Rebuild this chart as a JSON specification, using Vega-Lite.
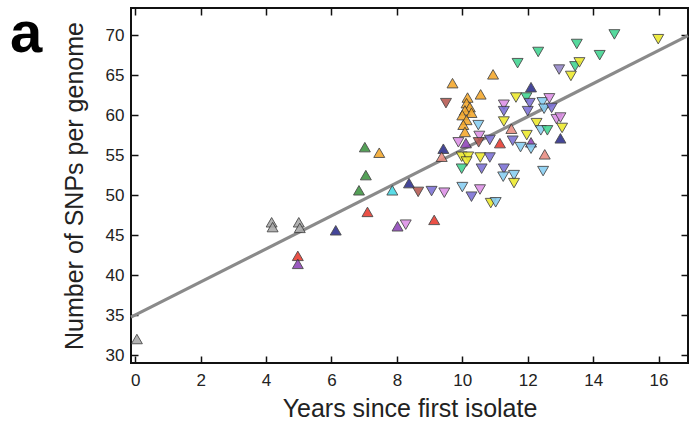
{
  "$schema": "https://vega.github.io/schema/vega-lite/v6.json",
  "width": 557,
  "height": 355,
  "autosize": {"type": "none"},
  "padding": {"left": 131, "top": 8, "right": 1, "bottom": 58},
  "background": "white",
  "config": {
    "view": {"stroke": "#111", "strokeWidth": 2},
    "axis": {"labelFont": "Liberation Sans", "titleFont": "Liberation Sans", "labelColor": "#222", "titleColor": "#222", "labelFontSize": 17, "titleFontSize": 25, "titleFontWeight": "normal", "domain": false, "tickColor": "#111", "tickWidth": 1.5, "gridColor": "#e4e4e4", "gridWidth": 1.5}
  },
  "layer": [
    {
      "data": {"values": [{"x": -0.13, "y": 34.73}, {"x": 16.9, "y": 69.95}]},
      "mark": {"type": "line", "color": "#8a8a8a", "strokeWidth": 3.2},
      "encoding": {
        "x": {"field": "x", "type": "quantitative", "scale": {"domain": [-0.13, 16.9], "nice": false, "zero": false}, "axis": {"orient": "top", "values": [0, 2, 4, 6, 8, 10, 12, 14, 16], "labels": false, "grid": false, "tickSize": -7, "title": null}},
        "y": {"field": "y", "type": "quantitative", "scale": {"domain": [29, 73.4], "nice": false, "zero": false}, "axis": {"orient": "right", "values": [30, 35, 40, 45, 50, 55, 60, 65, 70], "labels": false, "grid": false, "tickSize": -7, "title": null}}
      }
    },
    {
      "data": {"values": [{"label": "a", "x": -3.83, "y": 67.9}]},
      "mark": {"type": "text", "font": "Liberation Sans", "fontSize": 58, "fontWeight": "bold", "color": "#000", "align": "left", "baseline": "alphabetic"},
      "encoding": {
        "x": {"field": "x", "type": "quantitative", "axis": null},
        "y": {"field": "y", "type": "quantitative", "axis": null},
        "text": {"field": "label"}
      }
    },
    {
      "data": {"values": [
        {"x": 0.05, "y": 32.0, "g": "gray", "s": "up"},
        {"x": 4.17, "y": 46.6, "g": "gray", "s": "up"},
        {"x": 4.2, "y": 46.0, "g": "gray", "s": "up"},
        {"x": 5.0, "y": 46.6, "g": "gray", "s": "up"},
        {"x": 5.03, "y": 45.9, "g": "gray", "s": "up"},
        {"x": 4.97, "y": 42.4, "g": "red", "s": "up"},
        {"x": 4.97, "y": 41.4, "g": "purple", "s": "up"},
        {"x": 6.13, "y": 45.6, "g": "navy", "s": "up"},
        {"x": 7.02, "y": 56.0, "g": "green", "s": "up"},
        {"x": 7.05, "y": 52.5, "g": "green", "s": "up"},
        {"x": 6.84, "y": 50.6, "g": "green", "s": "up"},
        {"x": 7.46, "y": 55.3, "g": "orange", "s": "up"},
        {"x": 7.1, "y": 47.9, "g": "red", "s": "up"},
        {"x": 7.86, "y": 50.6, "g": "cyan", "s": "up"},
        {"x": 8.37, "y": 51.5, "g": "navy", "s": "up"},
        {"x": 8.65, "y": 50.4, "g": "brown", "s": "down"},
        {"x": 9.06, "y": 50.5, "g": "slate", "s": "down"},
        {"x": 9.45, "y": 50.3, "g": "violet", "s": "down"},
        {"x": 8.02, "y": 46.1, "g": "purple", "s": "up"},
        {"x": 8.27, "y": 46.3, "g": "violet", "s": "down"},
        {"x": 9.14, "y": 46.9, "g": "red", "s": "up"},
        {"x": 9.42, "y": 55.8, "g": "navy", "s": "up"},
        {"x": 9.37, "y": 54.8, "g": "salmon", "s": "up"},
        {"x": 9.7, "y": 64.0, "g": "orange", "s": "up"},
        {"x": 10.94, "y": 65.1, "g": "orange", "s": "up"},
        {"x": 10.56, "y": 62.6, "g": "orange", "s": "up"},
        {"x": 9.5, "y": 61.5, "g": "brown", "s": "down"},
        {"x": 10.16, "y": 62.2, "g": "orange", "s": "up"},
        {"x": 10.13, "y": 61.5, "g": "orange", "s": "up"},
        {"x": 10.23, "y": 61.0, "g": "orange", "s": "up"},
        {"x": 10.08, "y": 60.6, "g": "orange", "s": "up"},
        {"x": 10.28, "y": 60.3, "g": "orange", "s": "up"},
        {"x": 10.0, "y": 60.0, "g": "orange", "s": "up"},
        {"x": 10.13, "y": 59.4, "g": "orange", "s": "up"},
        {"x": 10.03, "y": 58.8, "g": "orange", "s": "up"},
        {"x": 10.08, "y": 57.9, "g": "orange", "s": "up"},
        {"x": 10.49, "y": 58.75, "g": "lightblue", "s": "down"},
        {"x": 9.88, "y": 56.6, "g": "violet", "s": "down"},
        {"x": 10.11, "y": 56.5, "g": "purple", "s": "up"},
        {"x": 10.52, "y": 57.4, "g": "violet", "s": "down"},
        {"x": 10.5, "y": 56.6, "g": "brown", "s": "down"},
        {"x": 10.84, "y": 56.9, "g": "slate", "s": "down"},
        {"x": 11.15, "y": 56.5, "g": "red", "s": "up"},
        {"x": 9.98, "y": 54.8, "g": "yellow", "s": "down"},
        {"x": 10.18, "y": 54.8, "g": "yellow", "s": "down"},
        {"x": 10.13, "y": 54.2, "g": "yellow", "s": "down"},
        {"x": 10.55, "y": 54.7, "g": "yellow", "s": "down"},
        {"x": 9.98, "y": 53.3, "g": "mint", "s": "down"},
        {"x": 10.84, "y": 54.7, "g": "slate", "s": "down"},
        {"x": 10.59, "y": 53.3, "g": "slate", "s": "down"},
        {"x": 10.0, "y": 51.0, "g": "lightblue", "s": "down"},
        {"x": 10.54, "y": 50.7, "g": "violet", "s": "down"},
        {"x": 10.28, "y": 49.8, "g": "slate", "s": "down"},
        {"x": 10.87, "y": 49.0, "g": "yellow", "s": "down"},
        {"x": 11.02, "y": 49.1, "g": "lightblue", "s": "down"},
        {"x": 12.1, "y": 63.5, "g": "navy", "s": "up"},
        {"x": 11.64, "y": 62.2, "g": "yellow", "s": "down"},
        {"x": 11.96, "y": 62.2, "g": "mint", "s": "down"},
        {"x": 11.27, "y": 61.3, "g": "violet", "s": "down"},
        {"x": 11.27, "y": 60.5, "g": "slate", "s": "down"},
        {"x": 11.27, "y": 59.2, "g": "yellow", "s": "down"},
        {"x": 11.5, "y": 58.3, "g": "salmon", "s": "up"},
        {"x": 12.06, "y": 61.5, "g": "slate", "s": "down"},
        {"x": 12.0, "y": 60.5, "g": "slate", "s": "down"},
        {"x": 12.45, "y": 61.6, "g": "lightblue", "s": "down"},
        {"x": 12.66, "y": 62.1, "g": "violet", "s": "down"},
        {"x": 12.5, "y": 60.8, "g": "lightblue", "s": "down"},
        {"x": 12.73, "y": 60.9, "g": "slate", "s": "down"},
        {"x": 12.88, "y": 59.5, "g": "violet", "s": "down"},
        {"x": 13.0, "y": 59.7, "g": "violet", "s": "down"},
        {"x": 12.27, "y": 59.0, "g": "yellow", "s": "down"},
        {"x": 12.4, "y": 58.1, "g": "lightblue", "s": "down"},
        {"x": 12.6, "y": 58.1, "g": "mint", "s": "down"},
        {"x": 13.05, "y": 58.4, "g": "yellow", "s": "down"},
        {"x": 13.0, "y": 57.1, "g": "navy", "s": "up"},
        {"x": 11.97, "y": 57.5, "g": "yellow", "s": "down"},
        {"x": 12.1, "y": 56.6, "g": "purple", "s": "up"},
        {"x": 11.54, "y": 56.8, "g": "slate", "s": "down"},
        {"x": 11.78, "y": 56.0, "g": "lightblue", "s": "down"},
        {"x": 12.1, "y": 55.8, "g": "lightblue", "s": "down"},
        {"x": 12.52, "y": 55.1, "g": "salmon", "s": "up"},
        {"x": 11.27, "y": 53.3, "g": "slate", "s": "down"},
        {"x": 11.25, "y": 52.3, "g": "lightblue", "s": "down"},
        {"x": 11.58, "y": 52.5, "g": "lightblue", "s": "down"},
        {"x": 11.58, "y": 51.5, "g": "yellow", "s": "down"},
        {"x": 12.47, "y": 53.0, "g": "lightblue", "s": "down"},
        {"x": 11.69, "y": 66.5, "g": "mint", "s": "down"},
        {"x": 12.32, "y": 67.9, "g": "mint", "s": "down"},
        {"x": 13.5, "y": 68.9, "g": "mint", "s": "down"},
        {"x": 14.65, "y": 70.1, "g": "mint", "s": "down"},
        {"x": 14.2, "y": 67.5, "g": "mint", "s": "down"},
        {"x": 15.99, "y": 69.5, "g": "yellow", "s": "down"},
        {"x": 12.96, "y": 65.7, "g": "lavender", "s": "down"},
        {"x": 13.45, "y": 66.1, "g": "mint", "s": "down"},
        {"x": 13.58, "y": 66.6, "g": "yellow", "s": "down"},
        {"x": 13.32, "y": 64.9, "g": "yellow", "s": "down"}
      ]},
      "mark": {"type": "point", "filled": true, "size": 120, "stroke": "#333", "strokeWidth": 0.9, "opacity": 0.88},
      "encoding": {
        "x": {"field": "x", "type": "quantitative", "axis": {"orient": "bottom", "values": [0, 2, 4, 6, 8, 10, 12, 14, 16], "tickSize": -7, "labelPadding": 16, "title": "Years since first isolate", "titlePadding": 8}},
        "y": {"field": "y", "type": "quantitative", "axis": {"orient": "left", "values": [30, 35, 40, 45, 50, 55, 60, 65, 70], "tickSize": -7, "labelPadding": 14, "title": "Number of SNPs per genome", "titlePadding": 18}},
        "shape": {"field": "s", "type": "nominal", "scale": {"domain": ["up", "down"], "range": ["triangle-up", "triangle-down"]}, "legend": null},
        "color": {"field": "g", "type": "nominal", "legend": null, "scale": {
          "domain": ["gray", "red", "purple", "navy", "green", "orange", "cyan", "salmon", "brown", "slate", "violet", "lightblue", "yellow", "mint", "lavender"],
          "range": ["#a8a8a8", "#e83a2e", "#8e44b8", "#2b2d8c", "#3d9440", "#f4a72a", "#44d8e4", "#e98c80", "#b5574f", "#7a6fd6", "#dc8fe6", "#86cdf2", "#ece92a", "#3fd490", "#9385c9"]}}
      }
    }
  ],
  "resolve": {"axis": {"x": "independent", "y": "independent"}}
}
